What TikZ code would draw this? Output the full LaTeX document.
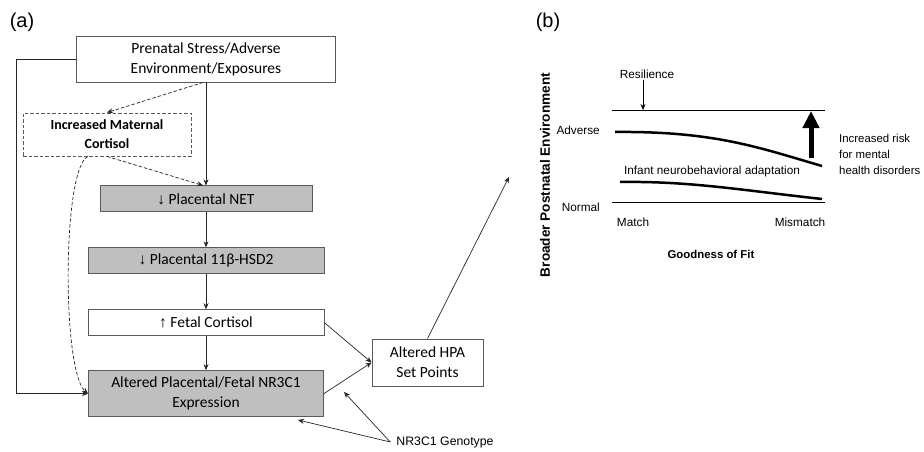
\documentclass[tikz,border=0pt]{standalone}
\usepackage{fontspec}
\setmainfont{Carlito}
\newfontfamily\arialfont{Liberation Sans}
\usetikzlibrary{positioning,arrows.meta}

\definecolor{boxgray}{RGB}{191,191,191}
\definecolor{edgegray}{RGB}{90,90,90}

\tikzset{
  box/.style={draw=edgegray, line width=0.9pt, minimum height=26pt, align=center,
    inner sep=2pt, font=\fontsize{15.5}{20}\selectfont},
  graybox/.style={box, fill=boxgray},
  link/.style={-{Stealth[length=6pt,width=5pt]}, line width=0.7pt, draw=black!85},
  dashlink/.style={link, dash pattern=on 3.5pt off 2pt},
  axistext/.style={font=\arialfont\fontsize{11.8}{17.5}\selectfont, inner sep=1pt},
  tagtext/.style={font=\arialfont\fontsize{20}{22}\selectfont}
}
\newcommand{\dnarrow}{{\arialfont\bfseries ↓}}
\newcommand{\uparr}{{\arialfont\bfseries ↑}}

\begin{document}
\begin{tikzpicture}[x=1pt,y=-1pt]
\useasboundingbox (0,0) rectangle (924,452);

% (a) pathway
\node[tagtext] (taga) at (22,22) {(a)};
\node[box, minimum width=259pt, minimum height=46pt] (stress) at (206,59) {Prenatal Stress/Adverse\\Environment/Exposures};
\node[box, dash pattern=on 3.5pt off 2pt, minimum width=168pt, minimum height=43pt,
      font=\bfseries\fontsize{14}{19}\selectfont] (maternal) at (107,134.5) {Increased Maternal\\Cortisol};
\node[graybox, minimum width=212pt, below=103pt of stress] (net) {\dnarrow{} Placental NET};
\node[graybox, minimum width=236pt, below=35pt of net] (hsd) {\dnarrow{} Placental 11β-HSD2};
\node[box, minimum width=236pt, below=35pt of hsd] (fetal) {\uparr{} Fetal Cortisol};
\node[graybox, minimum width=235pt, minimum height=46pt, below=34pt of fetal] (nrexpr) {Altered Placental/Fetal NR3C1\\Expression};
\node[box, minimum width=111pt, minimum height=47pt] (hpa) at (427.5,362.5) {Altered HPA\\Set Points};
\node[axistext, font=\arialfont\fontsize{12.3}{14}\selectfont] (genotype) at (445,442) {NR3C1 Genotype};
\coordinate (outcome) at (509,177);
\coordinate (genup) at (344,392);
\coordinate (genleft) at (298,420);

\draw[link] (stress.south) -- (net.north);
\draw[link] (net) -- (hsd);
\draw[link] (hsd) -- (fetal);
\draw[link] (fetal) -- (nrexpr);
\draw[link] (stress.west) -- ++(-60,0) |- (nrexpr.west);
\draw[dashlink] ([xshift=-3pt]stress.south) -- (maternal.north);
\draw[dashlink] (maternal.south) -- ([xshift=-3pt]net.north);
\draw[dashlink] ([xshift=-19pt]maternal.south) .. controls (62,168) and (62,372) .. (nrexpr.west);
\draw[link] (fetal.east) -- (hpa.west);
\draw[link] (nrexpr.east) -- (hpa.west);
\draw[link] (hpa.north) -- (outcome);
\draw[link] ([xshift=-5pt]genotype.west) -- (genup);
\draw[link] ([xshift=-5pt]genotype.west) -- (genleft);

% (b) goodness of fit
\node[tagtext] (tagb) at (548,22) {(b)};
\node[rotate=90, font=\arialfont\bfseries\fontsize{13.6}{15}\selectfont] (envaxis) at (545,175) {Broader Postnatal Environment};
\draw[line width=0.8pt] (612,110) -- (825,110);
\draw[line width=0.8pt] (612,202) -- (825,202);
\node[axistext] (resil) at (647,74) {Resilience};
\draw[-{Stealth[length=6pt,width=5pt]}, line width=0.7pt] ([xshift=-4pt]resil.south) -- (643,110);
\node[axistext, anchor=east] (adverse) at (601,130) {Adverse};
\node[axistext, anchor=east] (normal) at (601,207) {Normal};
\node[axistext] (adapt) at (712,171) {Infant neurobehavioral adaptation};
\node[axistext] (match) at (633,222) {Match};
\node[axistext] (mismatch) at (800,222) {Mismatch};
\node[axistext, font=\arialfont\bfseries\fontsize{11.4}{13}\selectfont] (fit) at (711,254) {Goodness of Fit};
\node[axistext, anchor=west, align=left, font=\arialfont\fontsize{11.4}{16}\selectfont] (risk) at (838,154) {Increased risk\\for mental\\health disorders};
\draw[line width=2.5pt] (615,132) .. controls (715,131) and (760,148) .. (822,166);
\draw[line width=2.5pt] (620,182) .. controls (690,181) and (740,190) .. (822,199);
\draw[line width=5pt, -{Triangle[length=17pt,width=16pt]}] (811,158) -- (811,111);

\end{tikzpicture}
\end{document}
